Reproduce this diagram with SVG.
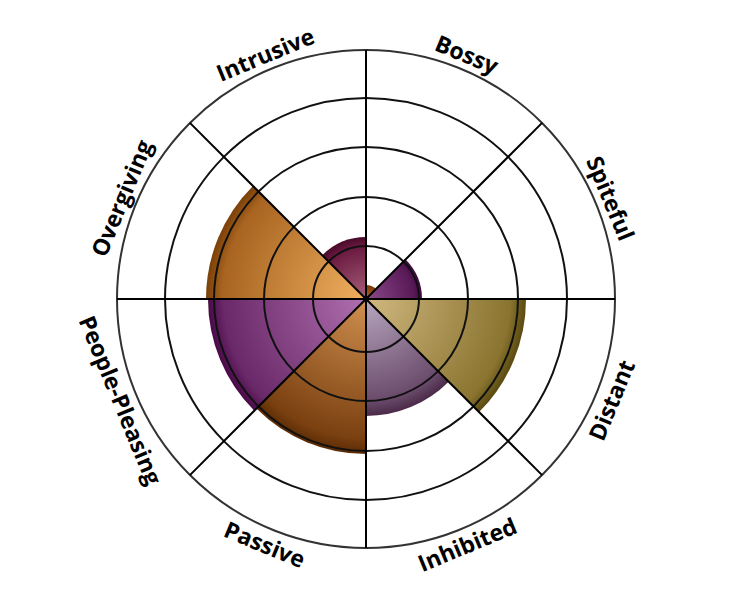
<svg xmlns="http://www.w3.org/2000/svg" width="732" height="600" viewBox="0 0 732 600">
<defs>
<radialGradient id="gI" gradientUnits="userSpaceOnUse" cx="366" cy="299" r="62"><stop offset="0" stop-color="#a8607a"/><stop offset="0.85" stop-color="#6a1a40"/><stop offset="1" stop-color="#4a0a2a"/></radialGradient>
<radialGradient id="gB" gradientUnits="userSpaceOnUse" cx="366" cy="299" r="14"><stop offset="0" stop-color="#c07030"/><stop offset="1" stop-color="#7a3808"/></radialGradient>
<radialGradient id="gS" gradientUnits="userSpaceOnUse" cx="366" cy="299" r="56"><stop offset="0" stop-color="#8a4a8a"/><stop offset="0.85" stop-color="#5a1a58"/><stop offset="1" stop-color="#3e0a3e"/></radialGradient>
<radialGradient id="gD" gradientUnits="userSpaceOnUse" cx="366" cy="299" r="160"><stop offset="0" stop-color="#d0b880"/><stop offset="0.9" stop-color="#8a7430"/><stop offset="1" stop-color="#5a4a10"/></radialGradient>
<radialGradient id="gN" gradientUnits="userSpaceOnUse" cx="366" cy="299" r="117"><stop offset="0" stop-color="#b8a8c0"/><stop offset="0.88" stop-color="#6a4a6a"/><stop offset="1" stop-color="#4a2a48"/></radialGradient>
<radialGradient id="gP" gradientUnits="userSpaceOnUse" cx="366" cy="299" r="155"><stop offset="0" stop-color="#d09050"/><stop offset="0.9" stop-color="#7a4010"/><stop offset="1" stop-color="#5a2a04"/></radialGradient>
<radialGradient id="gL" gradientUnits="userSpaceOnUse" cx="366" cy="299" r="158"><stop offset="0" stop-color="#b070b0"/><stop offset="0.9" stop-color="#6a2a6a"/><stop offset="1" stop-color="#4a0a48"/></radialGradient>
<radialGradient id="gO" gradientUnits="userSpaceOnUse" cx="366" cy="299" r="160"><stop offset="0" stop-color="#f0b060"/><stop offset="0.9" stop-color="#a86420"/><stop offset="1" stop-color="#7a4008"/></radialGradient>
</defs>
<style>
.ring{fill:none;stroke:#111;stroke-width:2}
.outer{fill:none;stroke:#333;stroke-width:2}
.ax{stroke:#000;stroke-width:2}
.lbl{font-family:"Open Sans","Liberation Sans",sans-serif;font-weight:bold;font-size:23px;fill:#000;text-anchor:middle;dominant-baseline:central}
</style>
<rect width="732" height="600" fill="#fff"/>
<g id="sectors">
<path id="s-intrusive" d="M366,299 L322.2,255.2 A62,62 0 0 1 366,237 Z" fill="url(#gI)"/>
<path id="s-bossy" d="M366,299 L366,285 A14,14 0 0 1 375.9,289.1 Z" fill="url(#gB)"/>
<path id="s-spiteful" d="M366,299 L405.6,259.4 A56,56 0 0 1 422,299 Z" fill="url(#gS)"/>
<path id="s-distant" d="M366,299 L526,299 A160,160 0 0 1 479.1,412.1 Z" fill="url(#gD)"/>
<path id="s-inhibited" d="M366,299 L448.7,381.7 A117,117 0 0 1 366,416 Z" fill="url(#gN)"/>
<path id="s-passive" d="M366,299 L366,454 A155,155 0 0 1 256.4,408.6 Z" fill="url(#gP)"/>
<path id="s-people" d="M366,299 L254.3,410.7 A158,158 0 0 1 208,299 Z" fill="url(#gL)"/>
<path id="s-overgiving" d="M366,299 L206,299 A160,160 0 0 1 252.9,185.9 Z" fill="url(#gO)"/>
</g>
<g id="grid">
<circle class="ring" cx="366" cy="299" r="53"/>
<circle class="ring" cx="366" cy="299" r="102"/>
<circle class="ring" cx="366" cy="299" r="152"/>
<circle class="ring" cx="366" cy="299" r="201"/>
<circle class="outer" cx="366" cy="299" r="249"/>
<line class="ax" x1="366" y1="50" x2="366" y2="548"/>
<line class="ax" x1="117" y1="299" x2="615" y2="299"/>
<line class="ax" x1="189.9" y1="122.9" x2="542.1" y2="475.1"/>
<line class="ax" x1="542.1" y1="122.9" x2="189.9" y2="475.1"/>
<circle cx="366" cy="299" r="3" fill="#000"/>
</g>
<g id="labels">
<text class="lbl" transform="translate(467,54) rotate(22.5)">Bossy</text>
<text class="lbl" transform="translate(611,198) rotate(67.5)">Spiteful</text>
<text class="lbl" transform="translate(611,400) rotate(-67.5)">Distant</text>
<text class="lbl" transform="translate(467,544) rotate(-22.5)">Inhibited</text>
<text class="lbl" transform="translate(265,544) rotate(22.5)">Passive</text>
<text class="lbl" transform="translate(121,400) rotate(67.5)">People-Pleasing</text>
<text class="lbl" transform="translate(121,198) rotate(-67.5)">Overgiving</text>
<text class="lbl" transform="translate(265,54) rotate(-22.5)">Intrusive</text>
</g>
</svg>
